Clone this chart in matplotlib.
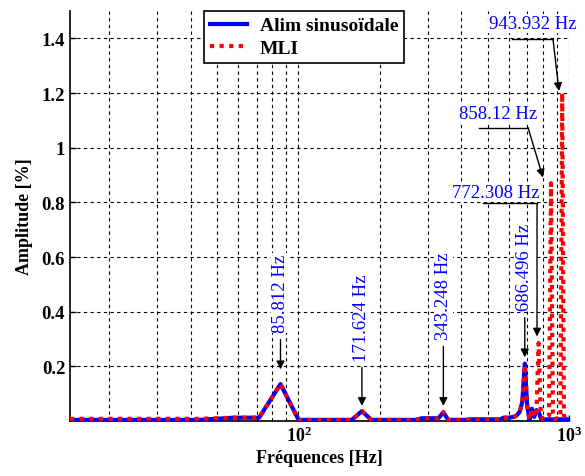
import matplotlib
matplotlib.use("Agg")
import matplotlib.pyplot as plt

plt.rcParams['font.family'] = ['Liberation Serif', 'DejaVu Serif']
plt.rcParams['mathtext.fontset'] = 'custom'
plt.rcParams['mathtext.rm'] = 'Liberation Serif:bold'
plt.rcParams['mathtext.it'] = 'Liberation Serif:bold'
plt.rcParams['mathtext.bf'] = 'Liberation Serif:bold'

# Frequency bins (Hz)
freqs = [14.302, 28.604, 42.906, 57.208, 71.51, 85.812, 100.114, 114.416, 128.718, 143.02,
         157.322, 171.624, 185.926, 200.228, 214.53, 228.832, 243.134, 257.436, 271.738, 286.04,
         300.342, 314.644, 328.946, 343.248, 357.55, 371.852, 386.154, 400.456, 414.758, 429.06,
         443.362, 457.664, 471.966, 486.268, 500.57, 514.872, 529.174, 543.476, 557.778, 572.08,
         586.382, 600.684, 614.986, 629.288, 643.59, 657.892, 672.194, 686.496, 700.798, 715.1,
         729.402, 743.704, 758.006, 772.308, 786.61, 800.912, 815.214, 829.516, 843.818, 858.12,
         872.422, 886.724, 901.026, 915.328, 929.63, 943.932, 958.234, 972.536, 986.838, 1001.14]

# Amplitudes (%) - sinusoidal supply
amp_sin = [0.004, 0.004, 0.004, 0.012, 0.012, 0.135, 0.004, 0.004, 0.004, 0.004,
           0.004, 0.036, 0.004, 0.004, 0.004, 0.004, 0.004, 0.004, 0.004, 0.010,
           0.010, 0.010, 0.010, 0.032, 0.004, 0.004, 0.004, 0.004, 0.004, 0.006,
           0.006, 0.006, 0.006, 0.006, 0.006, 0.006, 0.006, 0.006, 0.006, 0.012,
           0.012, 0.012, 0.014, 0.016, 0.022, 0.035, 0.070, 0.210, 0.055, 0.002,
           0.045, 0.015, 0.040, 0.035, 0.010, 0.006, 0.006, 0.006, 0.006, 0.006,
           0.006, 0.006, 0.006, 0.006, 0.006, 0.006, 0.006, 0.006, 0.006, 0.006]

# Amplitudes (%) - PWM (MLI)
amp_mli = [0.008, 0.008, 0.008, 0.012, 0.012, 0.135, 0.004, 0.004, 0.004, 0.004,
           0.004, 0.036, 0.004, 0.004, 0.004, 0.004, 0.004, 0.004, 0.004, 0.010,
           0.010, 0.010, 0.010, 0.032, 0.004, 0.004, 0.004, 0.004, 0.004, 0.006,
           0.006, 0.006, 0.006, 0.006, 0.006, 0.006, 0.006, 0.006, 0.006, 0.012,
           0.012, 0.012, 0.014, 0.016, 0.022, 0.035, 0.070, 0.205, 0.055, 0.005,
           0.045, 0.015, 0.030, 0.285, 0.030, 0.005, 0.010, 0.015, 0.020, 0.870,
           0.030, 0.005, 0.010, 0.010, 0.020, 1.200, 0.020, 0.005, 0.005, 0.005]

peak_labels = ['85.812 Hz', '171.624 Hz', '343.248 Hz', '686.496 Hz',
               '772.308 Hz', '858.12 Hz', '943.932 Hz']

fig = plt.figure(figsize=(5.85, 4.77), dpi=100)
ax = fig.add_axes([0.1197, 0.1153, 0.8529, 0.8595])

ax.plot(freqs, amp_sin, color='blue', lw=3, label='Alim sinusoïdale', zorder=3)
ax.plot(freqs, amp_mli, color='red', lw=3, ls=(0, (1, 1.3)), dash_capstyle='butt',
        label='MLI', zorder=4)

ax.set_xscale('log')
ax.set_xlim(14.302, 1000)
ax.set_ylim(0, 1.5)
ax.set_yticks([0.2, 0.4, 0.6, 0.8, 1.0, 1.2, 1.4])
ax.set_yticklabels(['0.2', '0.4', '0.6', '0.8', '1', '1.2', '1.4'], fontweight='bold', fontsize=13.5)
ax.set_xticks([100, 1000])
ax.set_xticklabels(['$10^{2}$', '$10^{3}$'], fontsize=13)
ax.tick_params(axis='both', direction='in', length=4, width=1)
ax.tick_params(axis='x', which='minor', direction='in', length=2)
ax.grid(True, which='both', axis='x', color='black', ls=(0, (3, 3)), lw=0.8)
ax.grid(True, which='major', axis='y', color='black', ls=(0, (3, 3)), lw=0.8)
for s in ['top', 'right']:
    ax.spines[s].set_visible(False)
for s in ['left', 'bottom']:
    ax.spines[s].set_linewidth(1.2)

ax.set_xlabel('Fréquences [Hz]', fontweight='bold', fontsize=13, labelpad=3)
ax.set_ylabel('Amplitude [%]', fontweight='bold', fontsize=13, labelpad=6)

leg = ax.legend(loc='upper left', bbox_to_anchor=(0.268, 1.0), borderaxespad=0,
                fancybox=False, framealpha=1, edgecolor='black', handlelength=1.9,
                handletextpad=0.7, borderpad=0.3, labelspacing=0.25,
                prop={'family': 'Liberation Serif', 'weight': 'bold', 'size': 14})
leg.get_frame().set_linewidth(1.2)
leg.set_zorder(10)

arrow = dict(arrowstyle='-|>', color='black', lw=1, mutation_scale=12, shrinkA=0, shrinkB=0)
txt = dict(color='blue', fontsize=13.5, ha='center', va='center', zorder=6,
           bbox=dict(facecolor='white', edgecolor='none', pad=0.5))

# vertical labels with straight arrows: (freq, text y, arrow start y, arrow tip y)
vert = [(freqs[5], 0.469, 0.298, 0.189),
        (freqs[11], 0.378, 0.196, 0.055),
        (freqs[23], 0.462, 0.273, 0.055),
        (freqs[47], 0.567, 0.378, 0.233)]
for lab, (f, ty, y0, y1) in zip(peak_labels[:4], vert):
    ax.text(f, ty, lab, rotation=90, **txt)
    ax.annotate('', xy=(f, y1), xytext=(f, y0), arrowprops=arrow, zorder=6)

# horizontal labels with elbow arrows: (text x, text y, line x0, line x1, line y, tip x, tip y)
elbow = [(538, 0.836, 481.6, 761.9, 0.796, 761.9, 0.309),
         (547, 1.124, 465.6, 706.0, 1.073, 801.6, 0.891),
         (736, 1.455, 616.0, 873.0, 1.396, 918.6, 1.207)]
for lab, (tx, ty, x0, x1, ly, ax_, ay) in zip(peak_labels[4:], elbow):
    ax.text(tx, ty, lab, **txt)
    ax.plot([x0, x1], [ly, ly], color='black', lw=1, zorder=6)
    ax.annotate('', xy=(ax_, ay), xytext=(x1, ly), arrowprops=arrow, zorder=6)

fig.savefig('out.png', dpi=100)
